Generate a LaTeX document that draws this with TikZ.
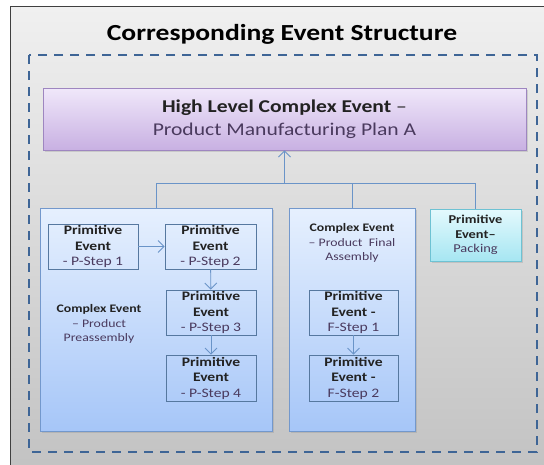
\documentclass[tikz,border=0pt]{standalone}
\usepackage{fontspec}
\setmainfont[FakeStretch=1.2]{Carlito}
\usetikzlibrary{shadows,arrows.meta}
\definecolor{pagetop}{HTML}{F0F0F0}
\definecolor{pagebot}{HTML}{C3C3C3}
\definecolor{dashline}{HTML}{3E6596}
\definecolor{linkline}{HTML}{6A94C8}
\definecolor{subtext}{HTML}{4A3A5E}
\definecolor{boldtext}{HTML}{222222}
\definecolor{plantop}{HTML}{F0E8FA}
\definecolor{planbot}{HTML}{C8B0E2}
\definecolor{planline}{HTML}{9E86C0}
\definecolor{cplxtop}{HTML}{E6F0FE}
\definecolor{cplxbot}{HTML}{A6C6F8}
\definecolor{cplxline}{HTML}{7398CC}
\definecolor{packtop}{HTML}{E4F9FD}
\definecolor{packbot}{HTML}{A6E6F2}
\definecolor{packline}{HTML}{6EC2D3}
\definecolor{primline}{HTML}{56789F}
\tikzset{
  ev/.style={inner sep=0pt, align=center, text=boldtext,
    drop shadow={shadow xshift=1.5pt, shadow yshift=-1.5pt, opacity=0.25}},
  hlev/.style={ev, draw=planline, line width=0.8pt,
    top color=plantop, bottom color=planbot,
    font=\fontsize{18}{23}\selectfont},
  cplx/.style={ev, draw=cplxline, line width=0.8pt,
    top color=cplxtop, bottom color=cplxbot,
    minimum height=223pt},
  pack/.style={ev, draw=packline, line width=0.8pt,
    top color=packtop, bottom color=packbot,
    minimum width=91pt, minimum height=52pt,
    font=\fontsize{12}{14.5}\selectfont},
  prim/.style={inner sep=0pt, align=center, text=boldtext,
    draw=primline, line width=0.7pt,
    minimum width=90pt, minimum height=45pt,
    font=\fontsize{13}{15.5}\selectfont},
  lbl/.style={inner sep=0pt, align=center, text=boldtext,
    font=\fontsize{11.5}{14.5}\selectfont},
  link/.style={draw=linkline, line width=0.9pt,
    >={Straight Barb[length=6pt,width=12pt]}}
}
\begin{document}
\begin{tikzpicture}[x=1pt,y=-1pt]
    \useasboundingbox (0,0) rectangle (544,464);
    % page and frame
    \fill[white] (0,0) rectangle (544,464);
    \shade[top color=pagetop, bottom color=pagebot] (10,6) rectangle (544,464);
    \draw[black!75, line width=1pt] (10,470) -- (10,6) -- (550,6);
    \draw[dashline, line width=2pt, dash pattern=on 9pt off 7pt]
        (29,55) rectangle (537,452);

    \node[inner sep=0pt, text=black, font=\fontsize{23}{28}\selectfont\bfseries]
        (title) at (282,34) {Corresponding Event Structure};

    % top level
    \node[hlev, minimum width=483pt, minimum height=62pt] (plan) at (284.5,119)
        {\textbf{High Level Complex Event} --\\\textcolor{subtext}{Product Manufacturing Plan A}};

    % complex events
    \node[cplx, minimum width=232pt] (pre) at (156,319.5) {};
    \node[cplx, minimum width=126pt] (fin) at (352,319.5) {};
    \node[pack] (packing) at (475.5,235)
        {\textbf{Primitive}\\\textbf{Event--}\\\textcolor{subtext}{Packing}};

    \node[lbl] (prelbl) at (99,324)
        {\textbf{Complex Event}\\\textcolor{subtext}{-- Product}\\\textcolor{subtext}{Preassembly}};
    \node[lbl] (finlbl) at (352,243)
        {\textbf{Complex Event}\\\textcolor{subtext}{-- Product\ \ Final}\\\textcolor{subtext}{Assembly}};

    % primitive steps
    \node[prim] (p1) at (93,246.5)
        {\textbf{Primitive}\\\textbf{Event}\\\textcolor{subtext}{- P-Step 1}};
    \node[prim, minimum width=91pt] (p2) at (210.5,246.5)
        {\textbf{Primitive}\\\textbf{Event}\\\textcolor{subtext}{- P-Step 2}};
    \node[prim] (p3) at (211,312.5)
        {\textbf{Primitive}\\\textbf{Event}\\\textcolor{subtext}{- P-Step 3}};
    \node[prim, minimum height=46pt] (p4) at (211,378)
        {\textbf{Primitive}\\\textbf{Event}\\\textcolor{subtext}{- P-Step 4}};
    \node[prim, minimum width=89pt] (f1) at (353.5,312.5)
        {\textbf{Primitive}\\\textbf{Event -}\\\textcolor{subtext}{F-Step 1}};
    \node[prim, minimum width=89pt, minimum height=46pt] (f2) at (353.5,378)
        {\textbf{Primitive}\\\textbf{Event -}\\\textcolor{subtext}{F-Step 2}};

    % connectors
    \coordinate (bus) at (284.5,183);
    \draw[link] (pre.north) |- (bus);
    \draw[link] (fin.north) |- (bus);
    \draw[link] (packing.north) |- (bus);
    \draw[link,->] (bus) -- (plan.south);

    \draw[link,->] (p1) -- (p2);
    \draw[link,->] (p2) -- (p3);
    \draw[link,->] (p3) -- (p4);
    \draw[link,->] (f1) -- (f2);
\end{tikzpicture}
\end{document}
